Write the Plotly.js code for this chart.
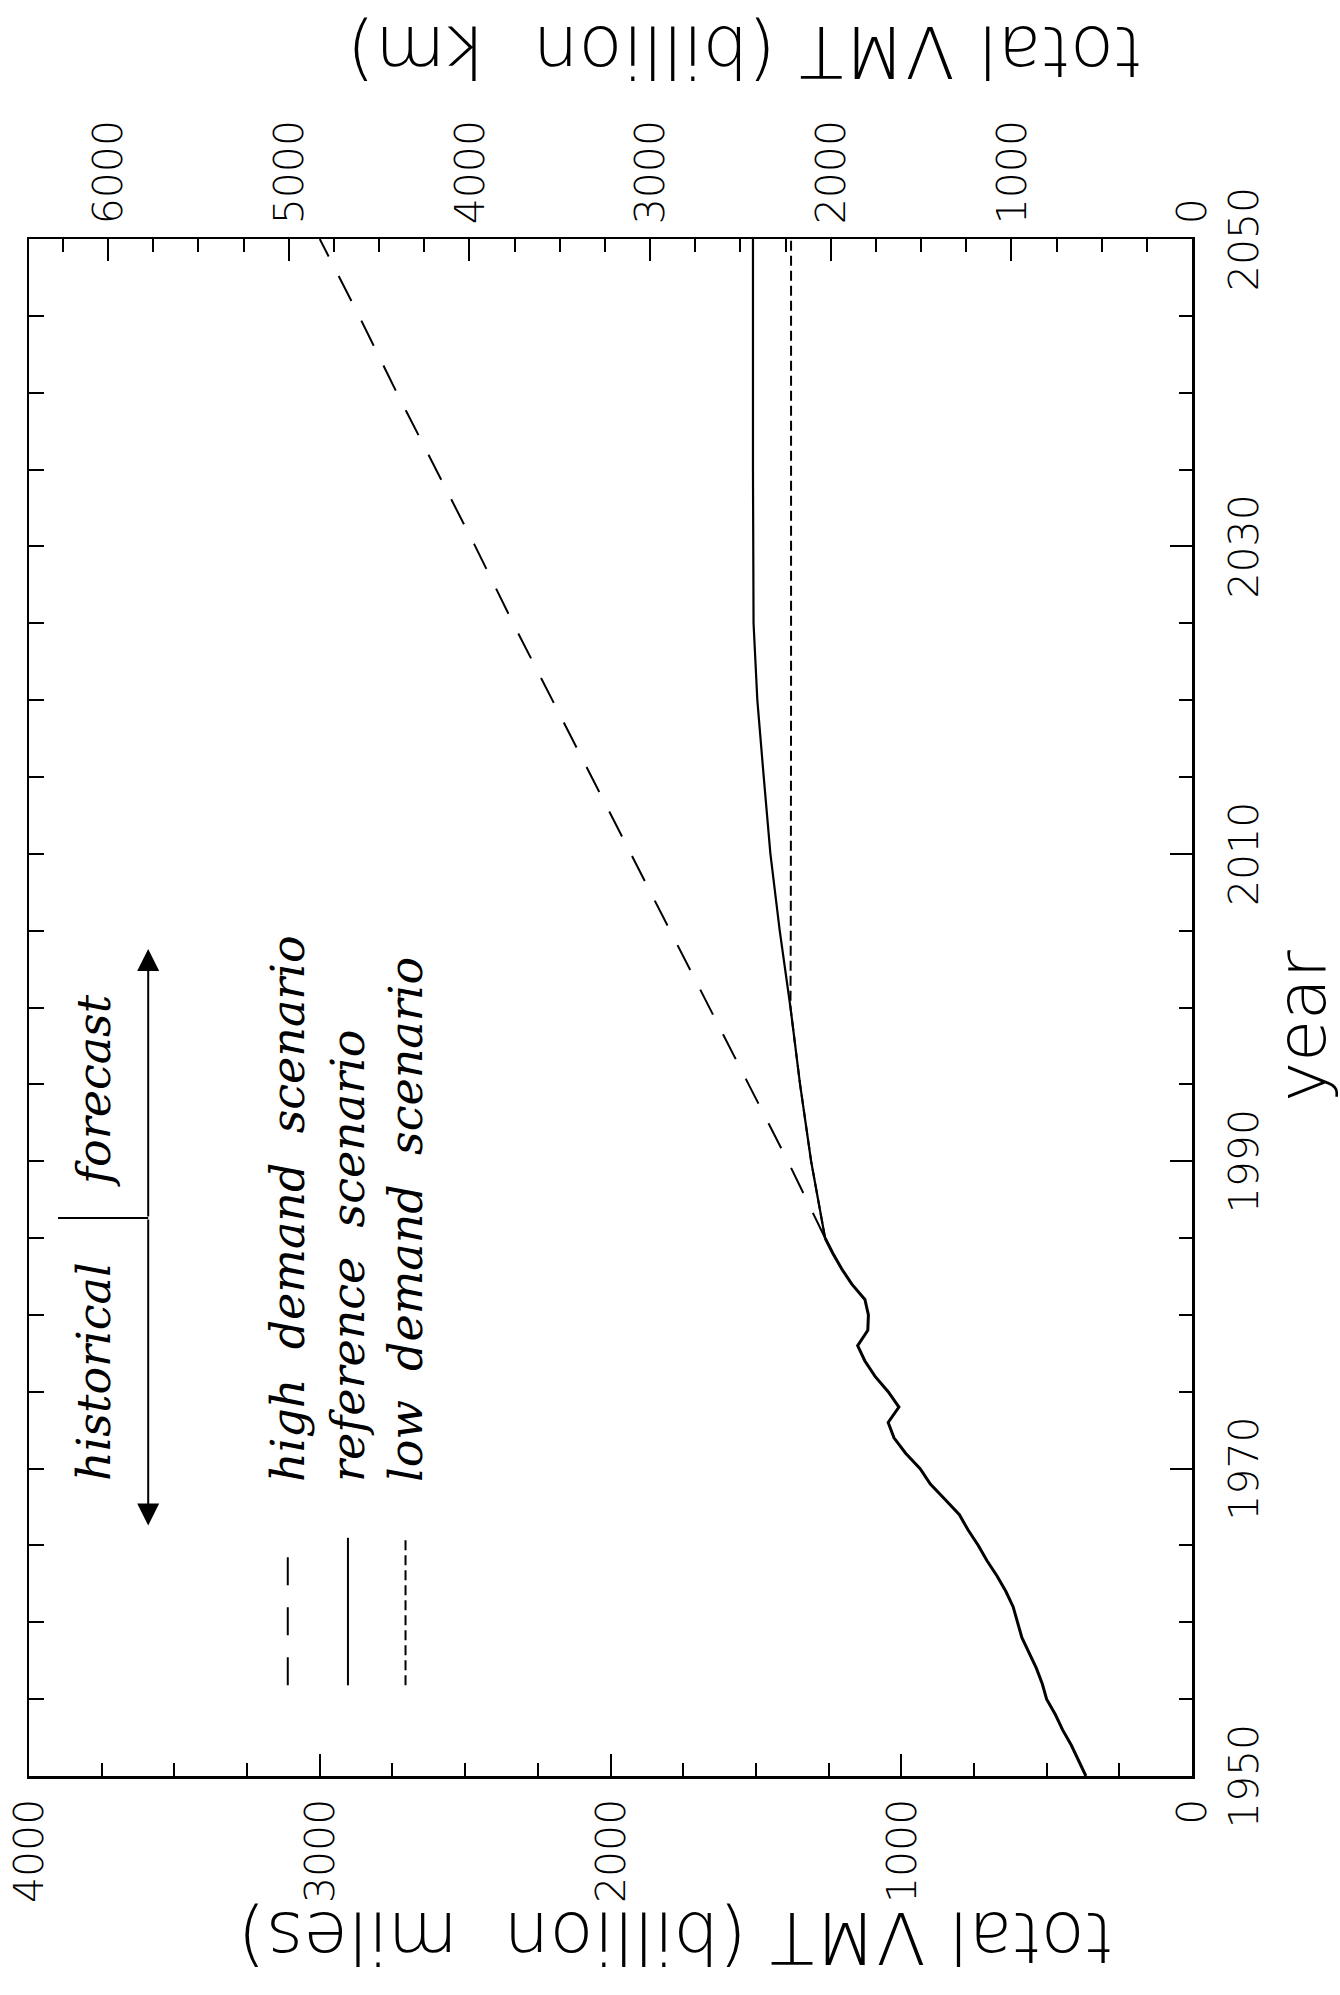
<!DOCTYPE html>
<html>
<head>
<meta charset="utf-8">
<script src="https://cdn.plot.ly/plotly-3.0.1.min.js"></script>
<style>
html,body{margin:0;padding:0;background:#fff;}
#wrap{position:absolute;left:0;top:0;width:1340px;height:1995px;overflow:hidden;background:#fff;}
#plot{position:absolute;left:0;top:0;width:1995px;height:1340px;transform-origin:0 0;transform:translate(0,1995px) rotate(-90deg);}
</style>
</head>
<body>
<div id="wrap"><div id="plot"></div></div>
<script>
// historical VMT (billion miles)
const histYears = [1950,1951,1952,1953,1954,1955,1956,1957,1958,1959,1960,1961,1962,1963,1964,1965,1966,1967,1968,1969,1970,1971,1972,1973,1974,1975,1976,1977,1978,1979,1980,1981,1982,1983,1984,1985];
const histVMT   = [365,390,415,445,470,500,515,535,560,585,600,615,640,670,705,735,770,800,850,900,935,985,1025,1045,1008,1045,1090,1125,1150,1115,1113,1125,1170,1205,1235,1262];

// forecasts (billion miles)
const fcYears   = [1985,1990,1995,2000,2005,2010,2015,2020,2025,2030,2035,2040,2045,2050];
const highVMT   = [1262,1390,1525,1660,1795,1930,2065,2200,2335,2465,2600,2735,2865,3000];
const refVMT    = [1262,1310,1348,1381,1418,1450,1473,1495,1508,1510,1510,1510,1510,1510];
const lowVMT    = [1262,1310,1348,1381,1380,1379,1379,1379,1379,1379,1379,1379,1379,1379];

const yearTicks = [1950,1970,1990,2010,2030,2050];
const mileTicks = [0,1000,2000,3000,4000];
const kmTicks   = [0,1000,2000,3000,4000,5000,6000];
const KM_PER_MILE = 1.609344;

const SP = ' \u00a0';
const legendNames = ['high'+SP+'demand'+SP+'scenario','reference'+SP+'scenario','low'+SP+'demand'+SP+'scenario'];
const legendDash  = ['28px,22px','solid','10px,5px'];
const legendPosMiles = [3110,2903,2705];

const tickFont = {family:'DejaVu Sans, sans-serif', size:41, color:'#000', weight:200};
const titleFont = {family:'DejaVu Sans, sans-serif', size:72, color:'#000', weight:200};
const yearFont = {family:'DejaVu Sans, sans-serif', size:68, color:'#000', weight:200};
const legFont = {family:'DejaVu Serif, serif', size:46, color:'#000', style:'italic'};

const traces = [
  {x:histYears, y:histVMT, mode:'lines', line:{color:'#000', width:3}, xaxis:'x', yaxis:'y'},
  {x:fcYears, y:highVMT, mode:'lines', line:{color:'#000', width:2, dash:'28px,22px'}, xaxis:'x', yaxis:'y'},
  {x:fcYears, y:refVMT, mode:'lines', line:{color:'#000', width:2.2}, xaxis:'x', yaxis:'y'},
  {x:fcYears, y:lowVMT, mode:'lines', line:{color:'#000', width:2, dash:'10px,5px'}, xaxis:'x', yaxis:'y'},
  {x:[], y:[], xaxis:'x2', yaxis:'y', mode:'lines'},
  {x:[], y:[], xaxis:'x', yaxis:'y2', mode:'lines'}
];

const shapes = [];
const annotations = [];
for (let i=0;i<3;i++){
  shapes.push({type:'line', xref:'x', yref:'y', x0:1955.9, x1:1965.5, y0:legendPosMiles[i], y1:legendPosMiles[i],
    line:{color:'#000', width:2, dash:legendDash[i]}});
  annotations.push({xref:'x', yref:'y', x:1969.0, y:legendPosMiles[i], text:legendNames[i], showarrow:false,
    xanchor:'left', yanchor:'middle', font:legFont});
}
// historical / forecast marker
annotations.push({xref:'x', yref:'y', x:1976.3, y:3775, text:'historical', showarrow:false, xanchor:'center', yanchor:'middle', font:legFont});
annotations.push({xref:'x', yref:'y', x:1994.6, y:3775, text:'forecast', showarrow:false, xanchor:'center', yanchor:'middle', font:legFont});
shapes.push({type:'line', xref:'x', yref:'y', x0:1986.3, x1:1986.3, y0:3590, y1:3900, line:{color:'#000', width:2}});
annotations.push({xref:'x', yref:'y', axref:'x', ayref:'y', x:1966.3, y:3590, ax:1986.3, ay:3590, text:'', showarrow:true,
  arrowhead:2, arrowsize:2.2, arrowwidth:2, arrowcolor:'#000', standoff:0, startstandoff:0});
annotations.push({xref:'x', yref:'y', axref:'x', ayref:'y', x:2003.8, y:3590, ax:1986.3, ay:3590, text:'', showarrow:true,
  arrowhead:2, arrowsize:2.2, arrowwidth:2, arrowcolor:'#000', standoff:0, startstandoff:0});

// axis titles
annotations.push({xref:'paper', yref:'paper', x:-0.1054, y:0.4437, text:'total VMT (billion\u00a0 miles)', textangle:-90,
  showarrow:false, xanchor:'center', yanchor:'middle', font:titleFont});
annotations.push({xref:'paper', yref:'paper', x:1.1217, y:0.3843, text:'total VMT (billion\u00a0 km)', textangle:-90,
  showarrow:false, xanchor:'center', yanchor:'middle', font:titleFont});
annotations.push({xref:'paper', yref:'paper', x:0.488, y:-0.094, text:'year', textangle:0,
  showarrow:false, xanchor:'center', yanchor:'middle', font:yearFont});

const axLine = {showline:true, linecolor:'#000', linewidth:2.5, showgrid:false, zeroline:false};

const layout = {
  width:1995, height:1340,
  margin:{l:219, r:239, t:29, b:148, pad:0},
  paper_bgcolor:'#fff', plot_bgcolor:'#fff',
  showlegend:false,
  xaxis:Object.assign({}, axLine, {range:[1950,2050], tickmode:'array', tickvals:yearTicks, ticktext:yearTicks.map(String),
    ticks:'inside', ticklen:22, tickwidth:2, tickcolor:'#000', tickfont:tickFont, ticklabelstandoff:14,
    minor:{dtick:5, tick0:1950, ticks:'inside', ticklen:13, tickwidth:2, tickcolor:'#000', showgrid:false}}),
  xaxis2:Object.assign({}, axLine, {range:[1950,2050], overlaying:'x', side:'top', anchor:'y', tick0:1950, dtick:5,
    ticks:'inside', ticklen:15, tickwidth:2, tickcolor:'#000', showticklabels:false}),
  yaxis:Object.assign({}, axLine, {range:[0,4000], tickmode:'array', tickvals:mileTicks, ticktext:mileTicks.map(String),
    ticks:'inside', ticklen:22, tickwidth:2, tickcolor:'#000', tickfont:tickFont, ticklabelstandoff:12,
    minor:{dtick:250, tick0:0, ticks:'inside', ticklen:13, tickwidth:2, tickcolor:'#000', showgrid:false}}),
  yaxis2:Object.assign({}, axLine, {range:[0,4000*KM_PER_MILE], overlaying:'y', side:'right', anchor:'x', tickmode:'array',
    tickvals:kmTicks, ticktext:kmTicks.map(String),
    ticks:'inside', ticklen:22, tickwidth:2, tickcolor:'#000', tickfont:tickFont, ticklabelstandoff:4,
    minor:{dtick:250, tick0:0, ticks:'inside', ticklen:13, tickwidth:2, tickcolor:'#000', showgrid:false}}),
  shapes:shapes,
  annotations:annotations
};

Plotly.newPlot('plot', traces, layout, {staticPlot:true, displayModeBar:false});
</script>
</body>
</html>
